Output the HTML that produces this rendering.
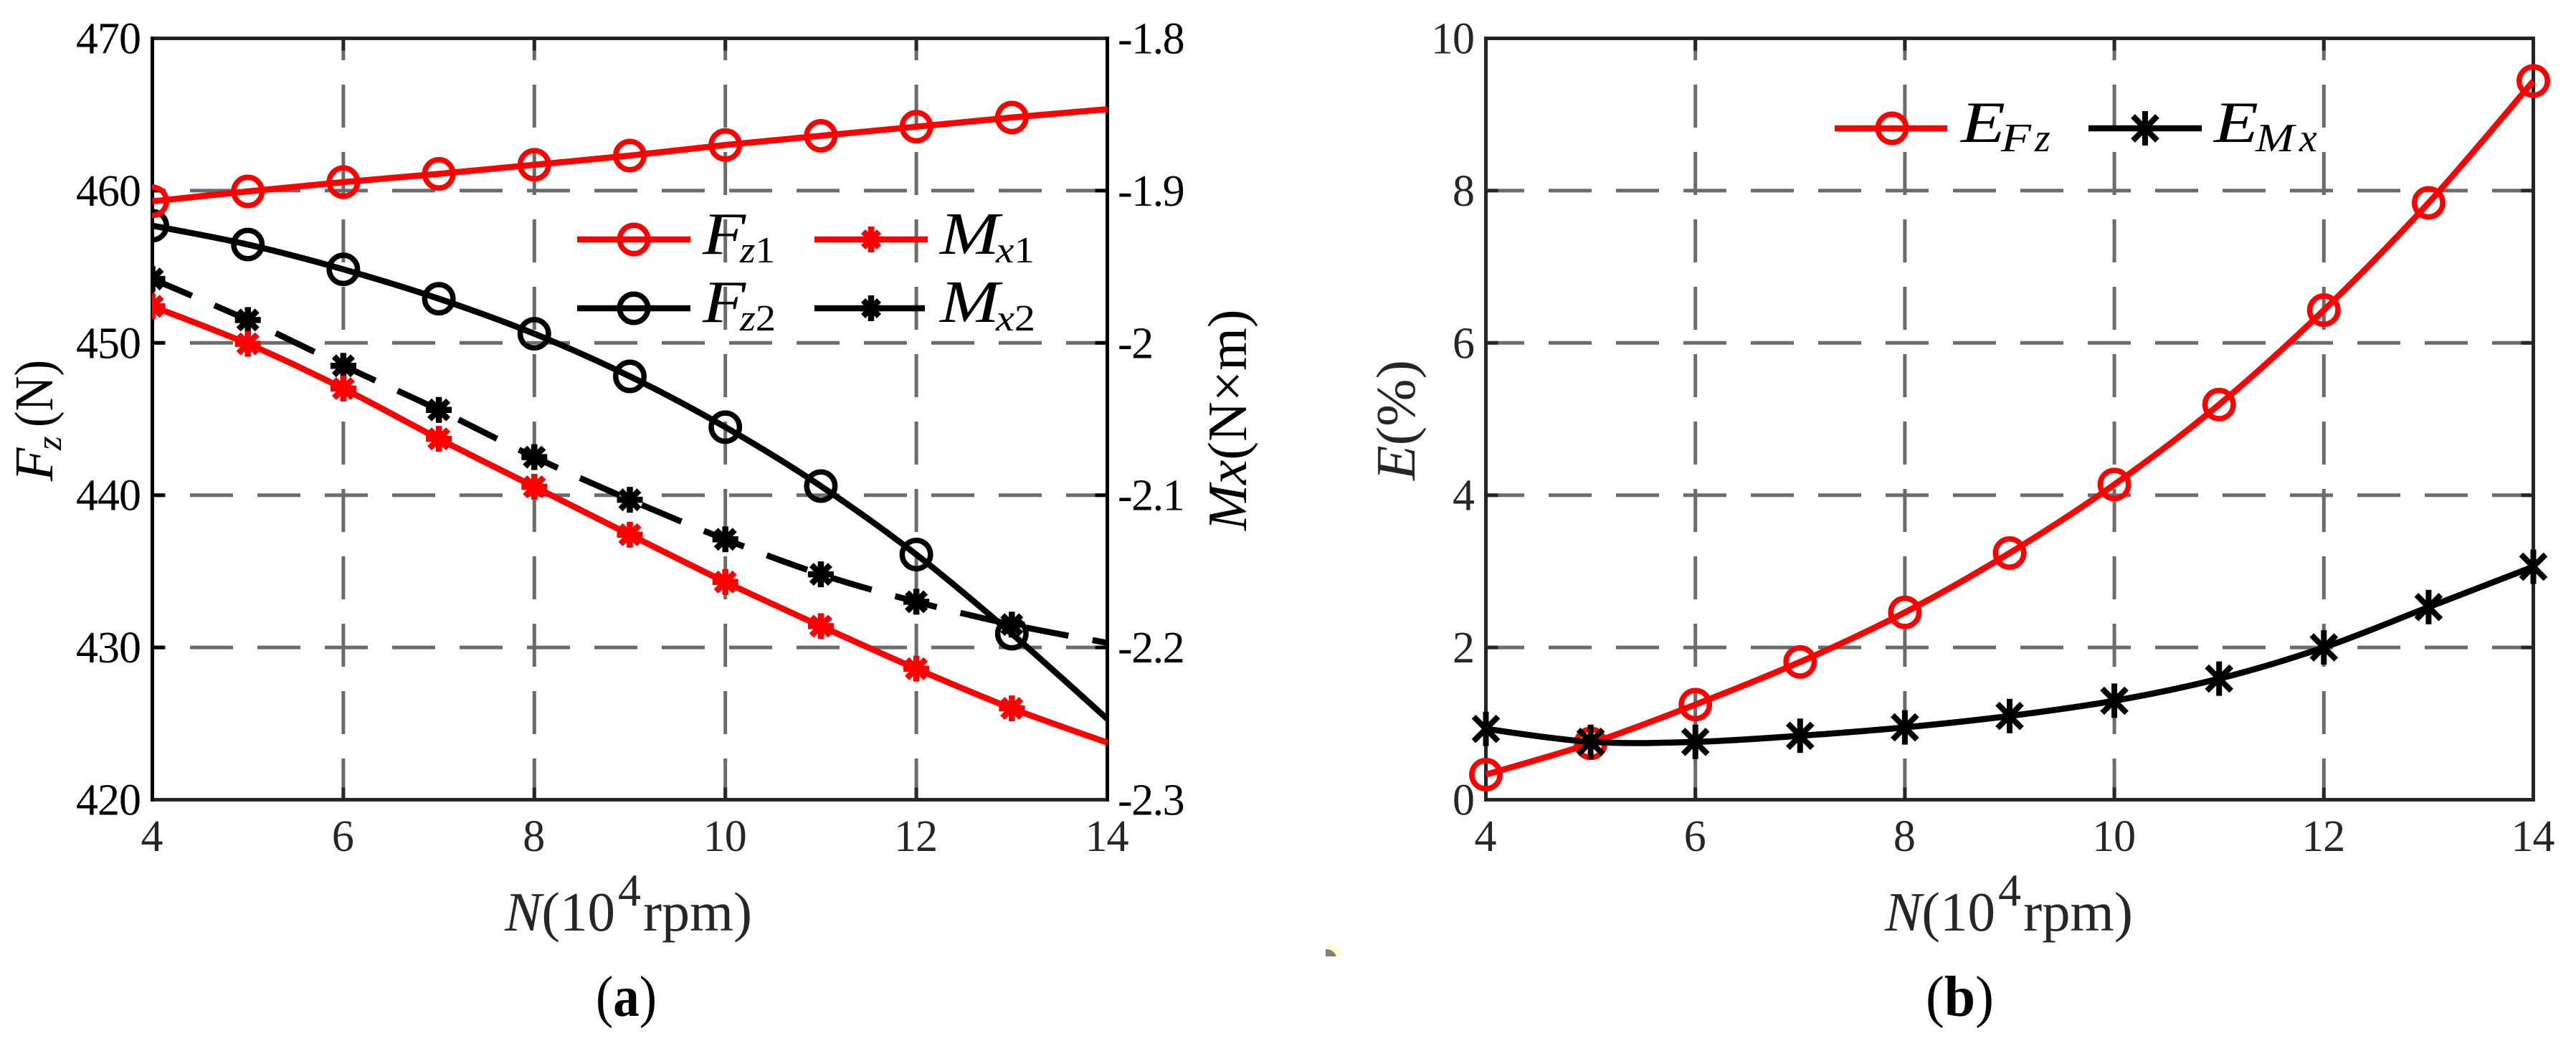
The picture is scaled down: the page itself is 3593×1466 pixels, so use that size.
<!DOCTYPE html>
<html lang="en">
<head>
<meta charset="utf-8">
<title>Fz, Mx and error versus rotational speed</title>
<style>
  html, body { margin: 0; padding: 0; background: #ffffff; }
  svg { display: block; font-family: "Liberation Serif", serif; }
  .i { font-style: italic; }
</style>
</head>
<body>
<svg id="figure" xmlns="http://www.w3.org/2000/svg" width="3593" height="1466" viewBox="0 0 3593 1466">
  <rect width="3593" height="1466" fill="#ffffff"/>
  <g id="chart-a"></g>
  <g id="chart-b"></g>

  <!-- Panel (a) axis titles -->
  <g fill="#262626" font-size="77">
    <text x="704" y="1298"><tspan class="i">N</tspan><tspan>(10</tspan></text>
    <text x="862" y="1263" font-size="64">4</text>
    <text x="897" y="1298" textLength="152" lengthAdjust="spacingAndGlyphs">rpm)</text>
  </g>
  <g fill="#000000">
    <text class="i" font-size="76" transform="translate(73 671) rotate(-90)">F</text>
    <text class="i" font-size="50" transform="translate(85 628) rotate(-90)">z</text>
    <text font-size="76" textLength="94" lengthAdjust="spacingAndGlyphs" transform="translate(73 596) rotate(-90)">(N)</text>
  </g>
  <text fill="#000000" font-size="77" transform="translate(1738 740) rotate(-90)"><tspan class="i">Mx</tspan><tspan>(N×m)</tspan></text>
  <text x="831" y="1417" font-size="80" textLength="85" lengthAdjust="spacingAndGlyphs" fill="#000000">(<tspan font-weight="bold">a</tspan>)</text>

  <!-- Panel (b) axis titles -->
  <g fill="#262626" font-size="77">
    <text x="2629" y="1298"><tspan class="i">N</tspan><tspan>(10</tspan></text>
    <text x="2787" y="1263" font-size="64">4</text>
    <text x="2822" y="1298" textLength="153" lengthAdjust="spacingAndGlyphs">rpm)</text>
  </g>
  <text fill="#262626" font-size="77" textLength="168" lengthAdjust="spacingAndGlyphs" transform="translate(1973 670) rotate(-90)"><tspan class="i">E</tspan><tspan>(%)</tspan></text>
  <text x="2686" y="1417" font-size="80" textLength="95" lengthAdjust="spacingAndGlyphs" fill="#000000">(<tspan font-weight="bold">b</tspan>)</text>

  <!-- Legend (a) -->
  <g fill="#000000">
    <g>
      <line x1="805" y1="334" x2="963" y2="334" stroke="#ff0000" stroke-width="8.5"/>
      <circle cx="884" cy="334" r="19.7" fill="none" stroke="#ff0000" stroke-width="7.5"/>
      <text class="i" x="980" y="354" font-size="84" textLength="60" lengthAdjust="spacingAndGlyphs">F</text>
      <text x="1032" y="366" font-size="52" textLength="49" lengthAdjust="spacingAndGlyphs"><tspan class="i">z</tspan>1</text>
    </g>
    <g>
      <line x1="805" y1="430" x2="963" y2="430" stroke="#000000" stroke-width="8.5"/>
      <circle cx="884" cy="430" r="19.7" fill="none" stroke="#000000" stroke-width="7.5"/>
      <text class="i" x="980" y="449" font-size="84" textLength="60" lengthAdjust="spacingAndGlyphs">F</text>
      <text x="1032" y="461" font-size="52" textLength="50" lengthAdjust="spacingAndGlyphs"><tspan class="i">z</tspan>2</text>
    </g>
    <g>
      <line x1="1136" y1="334" x2="1294" y2="334" stroke="#ff0000" stroke-width="8.5"/>
      <path d="M1215 316V352M1200.5 334H1229.5M1204 323L1226 345M1226 323L1204 345" fill="none" stroke="#ff0000" stroke-width="8.5"/>
      <text class="i" x="1311" y="354" font-size="84" textLength="83" lengthAdjust="spacingAndGlyphs">M</text>
      <text x="1389" y="366" font-size="52" textLength="54" lengthAdjust="spacingAndGlyphs"><tspan class="i">x</tspan>1</text>
    </g>
    <g>
      <line x1="1136" y1="430" x2="1290" y2="430" stroke="#000000" stroke-width="8.5"/>
      <path d="M1215 412V448M1200.5 430H1229.5M1204 419L1226 441M1226 419L1204 441" fill="none" stroke="#000000" stroke-width="8.5"/>
      <text class="i" x="1311" y="449" font-size="84" textLength="83" lengthAdjust="spacingAndGlyphs">M</text>
      <text x="1389" y="461" font-size="52" textLength="55" lengthAdjust="spacingAndGlyphs"><tspan class="i">x</tspan>2</text>
    </g>
  </g>

  <!-- Legend (b) -->
  <g fill="#000000">
    <g>
      <line x1="2559" y1="179" x2="2716" y2="179" stroke="#ff0000" stroke-width="8.5"/>
      <circle cx="2639" cy="179" r="19.7" fill="none" stroke="#ff0000" stroke-width="7.5"/>
      <text class="i" x="2735" y="198" font-size="82" textLength="62" lengthAdjust="spacingAndGlyphs">E</text>
      <text class="i" x="2791" y="211" font-size="56" textLength="42" lengthAdjust="spacingAndGlyphs">F</text>
      <text class="i" x="2838" y="211" font-size="56">z</text>
    </g>
    <g>
      <line x1="2913" y1="179" x2="3071" y2="179" stroke="#000000" stroke-width="8.5"/>
      <path d="M2992 155V203M2975 162L3009 196M3009 162L2975 196" fill="none" stroke="#000000" stroke-width="8"/>
      <text class="i" x="3088" y="198" font-size="82" textLength="62" lengthAdjust="spacingAndGlyphs">E</text>
      <text class="i" x="3146" y="211" font-size="56" textLength="54" lengthAdjust="spacingAndGlyphs">M</text>
      <text class="i" x="3207" y="211" font-size="56">x</text>
    </g>
  </g>

  <!-- Small stray mark present between the panels -->
  <g>
    <path d="M1849 1315A24 19 0 0 1 1873 1334L1849 1334Z" fill="#ffffd0"/>
    <path d="M1849 1324Q1860 1324 1864 1334L1849 1334Z" fill="#808080"/>
  </g>
</svg>

<script>
// ----- Chart data -----
const categories = [4, 5, 6, 7, 8, 9, 10, 11, 12, 13, 14];
const xTickValues = [4, 6, 8, 10, 12, 14];
const fzTickValues = [420, 430, 440, 450, 460, 470];
const mxTickValues = [-2.3, -2.2, -2.1, -2.0, -1.9, -1.8];
const mxTickLabels = ['-2.3', '-2.2', '-2.1', '-2', '-1.9', '-1.8'];
const errorTickValues = [0, 2, 4, 6, 8, 10];

const fz1Values = [459.3, 459.95, 460.56, 461.1, 461.7, 462.3, 463.0, 463.6, 464.2, 464.8, 465.35];
const fz2Values = [457.7, 456.46, 454.83, 452.9, 450.6, 447.8, 444.47, 440.6, 436.1, 430.9, 425.3];
const mx1Values = [-1.976, -2.0006, -2.030, -2.063, -2.0945, -2.126, -2.157, -2.186, -2.214, -2.240, -2.2625];
const mx2Values = [-1.958, -1.985, -2.015, -2.044, -2.075, -2.103, -2.129, -2.152, -2.170, -2.185, -2.197];
const efzValues = [0.33, 0.74, 1.25, 1.81, 2.46, 3.24, 4.14, 5.19, 6.43, 7.84, 9.44];
const emxValues = [0.93, 0.76, 0.76, 0.84, 0.95, 1.10, 1.30, 1.59, 2.00, 2.53, 3.06];

// ----- Helpers -----
const SVG_NS = 'http://www.w3.org/2000/svg';

function make(tag, attrs, parent) {
  const node = document.createElementNS(SVG_NS, tag);
  for (const key in attrs) node.setAttribute(key, attrs[key]);
  parent.appendChild(node);
  return node;
}

function linear(d0, d1, r0, r1) {
  return function (v) { return r0 + (v - d0) * (r1 - r0) / (d1 - d0); };
}

function smoothPath(points) {
  let d = 'M' + points[0][0].toFixed(1) + ' ' + points[0][1].toFixed(1);
  for (let i = 0; i < points.length - 1; i++) {
    const p0 = points[Math.max(i - 1, 0)];
    const p1 = points[i];
    const p2 = points[i + 1];
    const p3 = points[Math.min(i + 2, points.length - 1)];
    d += 'C' + (p1[0] + (p2[0] - p0[0]) / 6).toFixed(1) + ' ' + (p1[1] + (p2[1] - p0[1]) / 6).toFixed(1) +
         ' ' + (p2[0] - (p3[0] - p1[0]) / 6).toFixed(1) + ' ' + (p2[1] - (p3[1] - p1[1]) / 6).toFixed(1) +
         ' ' + p2[0].toFixed(1) + ' ' + p2[1].toFixed(1);
  }
  return d;
}

function drawFrame(root, box, xScale, yScale, yTicks, xOffsetPhase, rightTicks, frame) {
  const gridColor = '#6b6b6b';
  const gridGroup = make('g', {}, root);
  
  
  xTickValues.slice(1, -1).forEach(function (v) {
    const line = make('line', { x1: xScale(v), x2: xScale(v), y1: box.top, y2: box.bottom, stroke: gridColor, 'stroke-width': 5, 'stroke-dasharray': '60 34', 'stroke-dashoffset': 29.5 }, gridGroup);
    
    
  });
  yTicks.slice(1, -1).forEach(function (v) {
    const line = make('line', { x1: box.left, x2: box.right, y1: yScale(v), y2: yScale(v), stroke: gridColor, 'stroke-width': 5, 'stroke-dasharray': '60 34', 'stroke-dashoffset': xOffsetPhase }, gridGroup);
    
    
  });

  const tickGroup = make('g', {}, root);
  
  
  xTickValues.slice(1, -1).forEach(function (v) {
    const bottomTick = make('line', { x1: xScale(v), x2: xScale(v), y1: box.bottom, y2: box.bottom - 17, stroke: frame.horizontal, 'stroke-width': 5 }, tickGroup);
    
    
    const topTick = make('line', { x1: xScale(v), x2: xScale(v), y1: box.top, y2: box.top + 17, stroke: frame.horizontal, 'stroke-width': 5 }, tickGroup);
    
    
  });
  yTicks.slice(1, -1).forEach(function (v) {
    const leftTick = make('line', { x1: box.left, x2: box.left + 17, y1: yScale(v), y2: yScale(v), stroke: frame.vertical, 'stroke-width': 5 }, tickGroup);
    
    
    const rightTick = make('line', { x1: box.right, x2: box.right - 17, y1: yScale(v), y2: yScale(v), stroke: frame.vertical, 'stroke-width': 5 }, tickGroup);
    
    
  });

  const frameGroup = make('g', { fill: 'none', 'stroke-width': 5 }, root);
  
  
  const topAxis = make('line', { x1: box.left - 2.5, x2: box.right + 2.5, y1: box.top, y2: box.top, stroke: frame.horizontal }, frameGroup);
  
  
  const bottomAxis = make('line', { x1: box.left - 2.5, x2: box.right + 2.5, y1: box.bottom, y2: box.bottom, stroke: frame.horizontal }, frameGroup);
  
  
  const leftAxis = make('line', { x1: box.left, x2: box.left, y1: box.top - 2.5, y2: box.bottom + 2.5, stroke: frame.vertical }, frameGroup);
  
  
  const rightAxis = make('line', { x1: box.right, x2: box.right, y1: box.top - 2.5, y2: box.bottom + 2.5, stroke: frame.vertical }, frameGroup);
  
  
}

function drawXTickLabels(root, xScale) {
  xTickValues.forEach(function (v) {
    const label = make('text', { x: xScale(v) - 1, y: 1187, 'font-size': 62, fill: '#262626', 'text-anchor': 'middle', 'letter-spacing': -1 }, root);
    
    
    label.textContent = String(v);
  });
}

function drawLeftTickLabels(root, yScale, values, rightEdge, color) {
  values.forEach(function (v) {
    const label = make('text', { x: rightEdge, y: yScale(v) + 21, 'font-size': 62, fill: color, 'text-anchor': 'end', 'letter-spacing': -1 }, root);
    
    
    label.textContent = String(v);
  });
}

function ring(parent, x, y, color) {
  const marker = make('circle', { cx: x, cy: y, r: 19.7, fill: 'none', stroke: color, 'stroke-width': 7.5 }, parent);
  
  
}

function denseStar(parent, x, y, color) {
  const d = 'M' + x + ' ' + (y - 18) + 'V' + (y + 18) + 'M' + (x - 18) + ' ' + y + 'H' + (x + 18) +
            'M' + (x - 13) + ' ' + (y - 13) + 'L' + (x + 13) + ' ' + (y + 13) +
            'M' + (x + 13) + ' ' + (y - 13) + 'L' + (x - 13) + ' ' + (y + 13);
  const marker = make('path', { d: d, fill: 'none', stroke: color, 'stroke-width': 8.5 }, parent);
  
  
}

function tallStar(parent, x, y, color) {
  const d = 'M' + x + ' ' + (y - 24) + 'V' + (y + 24) +
            'M' + (x - 17) + ' ' + (y - 17) + 'L' + (x + 17) + ' ' + (y + 17) +
            'M' + (x + 17) + ' ' + (y - 17) + 'L' + (x - 17) + ' ' + (y + 17);
  const marker = make('path', { d: d, fill: 'none', stroke: color, 'stroke-width': 8 }, parent);
  
  
}

function drawSeries(root, name, values, xScale, yScale, color, dash, markerFn, markerCount) {
  const group = make('g', {}, root);
  
  
  const points = values.map(function (v, i) { return [xScale(categories[i]), yScale(v)]; });
  const attrs = { d: smoothPath(points), fill: 'none', stroke: color, 'stroke-width': 8.5 };
  if (dash) attrs['stroke-dasharray'] = dash;
  const line = make('path', attrs, group);
  
  
  points.slice(0, markerCount).forEach(function (p) {
    markerFn(group, +p[0].toFixed(1), +p[1].toFixed(1), color);
  });
}

// ----- Panel (a) -----
const rootA = document.getElementById('chart-a');
const boxA = { left: 212.5, right: 1544.5, top: 53.5, bottom: 1115.5 };
const xA = linear(4, 14, boxA.left, boxA.right);
const yFz = linear(420, 470, boxA.bottom, boxA.top);
const yMx = linear(-2.3, -1.8, boxA.bottom, boxA.top);

drawFrame(rootA, boxA, xA, yFz, fzTickValues, 41.5, true, { horizontal: '#262626', vertical: '#000000' });
drawXTickLabels(rootA, xA);
drawLeftTickLabels(rootA, yFz, fzTickValues, 196, '#000000');
mxTickValues.forEach(function (v, i) {
  const label = make('text', { x: 1559, y: yMx(v) + 21, 'font-size': 62, fill: '#000000', 'letter-spacing': -1.5 }, rootA);
  
  
  label.textContent = mxTickLabels[i];
});

const defsA = make('defs', {}, rootA);
const clipA = make('clipPath', { id: 'plot-clip-a' }, defsA);
make('rect', { x: 212, y: 0, width: 1334, height: 1466 }, clipA);
const seriesA = make('g', { 'clip-path': 'url(#plot-clip-a)' }, rootA);



drawSeries(seriesA, 'series-mx2', mx2Values, xA, yMx, '#000000', '60 34', denseStar, 10);
drawSeries(seriesA, 'series-fz2', fz2Values, xA, yFz, '#000000', null, ring, 10);
drawSeries(seriesA, 'series-mx1', mx1Values, xA, yMx, '#ff0000', null, denseStar, 10);
drawSeries(seriesA, 'series-fz1', fz1Values, xA, yFz, '#ff0000', null, ring, 10);

// ----- Panel (b) -----
const rootB = document.getElementById('chart-b');
const boxB = { left: 2072.5, right: 3533.5, top: 53.5, bottom: 1115.5 };
const xB = linear(4, 14, boxB.left, boxB.right);
const yErr = linear(0, 10, boxB.bottom, boxB.top);

drawFrame(rootB, boxB, xB, yErr, errorTickValues, 6.5, true, { horizontal: '#262626', vertical: '#262626' });
drawXTickLabels(rootB, xB);
drawLeftTickLabels(rootB, yErr, errorTickValues, 2056, '#262626');

drawSeries(rootB, 'series-efz', efzValues, xB, yErr, '#ff0000', null, ring, 11);
drawSeries(rootB, 'series-emx', emxValues, xB, yErr, '#000000', null, tallStar, 11);
</script>
</body>
</html>
